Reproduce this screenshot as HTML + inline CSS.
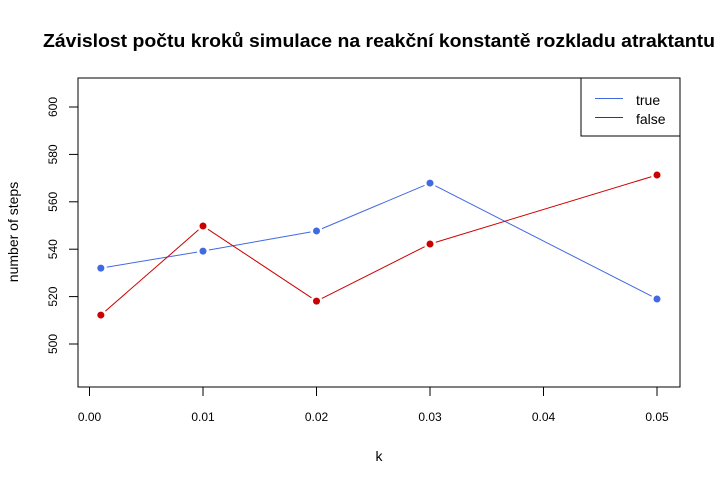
<!DOCTYPE html>
<html><head><meta charset="utf-8"><style>
html,body{margin:0;padding:0;background:#fff;}
svg{display:block;font-family:"Liberation Sans",Arial,sans-serif;}
</style></head><body>
<svg id="chart" width="720" height="485">
<text x="379" y="47" text-anchor="middle" font-size="18.3" font-weight="bold" textLength="672" lengthAdjust="spacingAndGlyphs">Závislost počtu kroků simulace na reakční konstantě rozkladu atraktantu</text>
<rect x="78" y="78" width="602" height="309" fill="none" stroke="#000" stroke-width="1"/>
<text x="379" y="461" text-anchor="middle" font-size="14">k</text>
<text transform="translate(18,232) rotate(-90)" text-anchor="middle" font-size="14">number of steps</text>
<g id="axes"></g>
<g id="series"></g>
<g>
<rect x="581" y="78" width="99" height="58" fill="#fff" stroke="#000"/>
<line x1="595" y1="98.5" x2="623" y2="98.5" stroke="#4169E1"/>
<text x="636" y="105" font-size="14">true</text>
<line x1="595" y1="117.5" x2="623" y2="117.5" stroke="#CC0000"/>
<text x="636" y="124" font-size="14">false</text>
</g>
</svg>
<script>
const kValues = [0.001, 0.01, 0.02, 0.03, 0.05];
const trueSteps = [532, 539.2, 547.7, 567.9, 519];
const falseSteps = [512.2, 549.8, 518.1, 542.2, 571.3];
const xTicks = [0, 0.01, 0.02, 0.03, 0.04, 0.05];
const xTickLabels = ["0.00", "0.01", "0.02", "0.03", "0.04", "0.05"];
const yTicks = [500, 520, 540, 560, 580, 600];

const NS = "http://www.w3.org/2000/svg";
function xs(v){ return 89.5 + v * 11350; }
function ys(v){ return 344 - (v - 500) * 2.37; }
function mk(tag, attrs, parent){
  const e = document.createElementNS(NS, tag);
  for (const k in attrs) e.setAttribute(k, attrs[k]);
  parent.appendChild(e);
  return e;
}
const axes = document.getElementById('axes');
xTicks.forEach((t, i) => {
  const l = mk('line', {x1: xs(t), x2: xs(t), y1: 387, y2: 396, stroke: '#000'}, axes);
  
  
  const tx = mk('text', {x: xs(t), y: 421, 'text-anchor': 'middle', 'font-size': 12}, axes);
  tx.textContent = xTickLabels[i];
  
  
});
yTicks.forEach(t => {
  const l = mk('line', {x1: 69, x2: 78, y1: ys(t), y2: ys(t), stroke: '#000'}, axes);
  
  
  const tx = mk('text', {transform: 'translate(57,' + ys(t) + ') rotate(-90)', 'text-anchor': 'middle', 'font-size': 12}, axes);
  tx.textContent = t;
  
  
});
const series = document.getElementById('series');
function draw(vals, color, name){
  const g = mk('g', {}, series);
  
  
  for (let i = 0; i < vals.length - 1; i++){
    const x1 = xs(kValues[i]), y1 = ys(vals[i]), x2 = xs(kValues[i+1]), y2 = ys(vals[i+1]);
    const d = Math.hypot(x2 - x1, y2 - y1), gap = 6;
    const ux = (x2 - x1) / d, uy = (y2 - y1) / d;
    const l = mk('line', {x1: x1 + ux*gap, y1: y1 + uy*gap, x2: x2 - ux*gap, y2: y2 - uy*gap, stroke: color, 'stroke-width': 1}, g);
    
    
  }
  vals.forEach((v, i) => {
    const c = mk('circle', {cx: xs(kValues[i]), cy: ys(v), r: 3.5, fill: color}, g);
    
    
  });
}
draw(trueSteps, '#4169E1', 'true');
draw(falseSteps, '#CC0000', 'false');
</script>
</body></html>
